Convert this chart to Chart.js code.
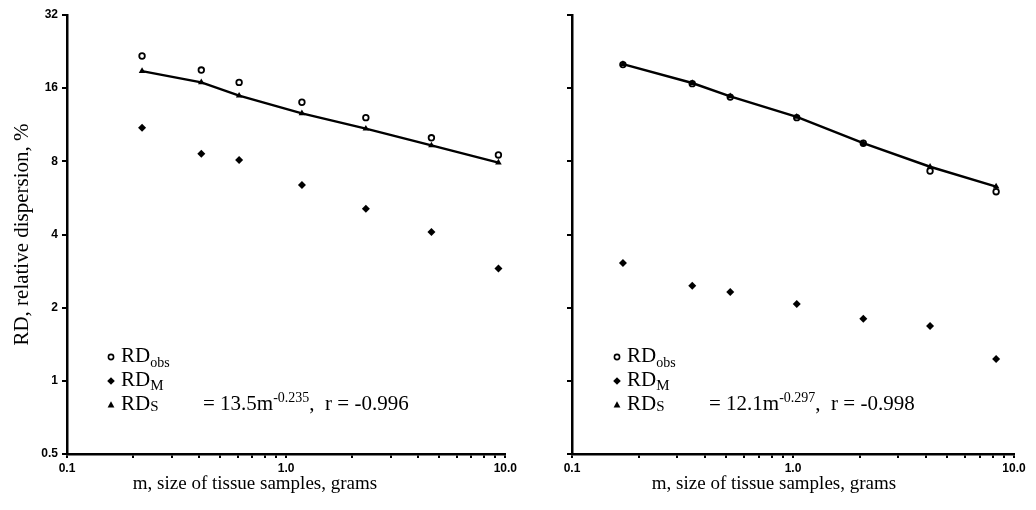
<!DOCTYPE html>
<html>
<head>
<meta charset="utf-8">
<title>Relative dispersion vs. sample size</title>
<script src="https://cdn.jsdelivr.net/npm/chart.js@4.4.1/dist/chart.umd.min.js"></script>
<style>
  html, body { margin: 0; padding: 0; background: #fff; }
  #wrap { position: relative; width: 1036px; height: 510px; }
  .panel { position: absolute; top: 0; height: 510px; }
  #left { left: 0; width: 520px; }
  #right { left: 520px; width: 516px; }
</style>
</head>
<body>
<div id="wrap">
  <div class="panel" id="left"><canvas id="chartA"></canvas></div>
  <div class="panel" id="right"><canvas id="chartB"></canvas></div>
</div>
<script>
// axis ticks (log-log)
const xTicks = [0.1, 0.2, 0.3, 0.4, 0.5, 0.6, 0.7, 0.8, 0.9, 1, 2, 3, 4, 5, 6, 7, 8, 9, 10];
const xMajor = [0.1, 1, 10];
const xTickLabels = ["0.1", "1.0", "10.0"];
const yTicks = [0.5, 1, 2, 4, 8, 16, 32];
const yTickLabels = ["0.5", "1", "2", "4", "8", "16", "32"];

// left panel: sample mass (g) and RD values (%)
const massA = [0.22, 0.41, 0.61, 1.18, 2.31, 4.6, 9.3];
const obsA = [21.7, 19.0, 16.9, 14.0, 12.1, 10.0, 8.5];
const methA = [11.0, 8.6, 8.1, 6.4, 5.1, 4.1, 2.9];
const sampA = [18.8, 16.9, 14.9, 12.6, 10.9, 9.3, 7.9];

// right panel
const massB = [0.17, 0.35, 0.52, 1.04, 2.08, 4.17, 8.3];
const obsB = [20.0, 16.7, 14.7, 12.1, 9.5, 7.3, 6.0];
const methB = [3.05, 2.46, 2.32, 2.07, 1.80, 1.68, 1.23];
const sampB = [20.1, 16.8, 14.8, 12.2, 9.5, 7.6, 6.3];

const SERIF = "'Liberation Serif', 'Times New Roman', serif";
const SANS = "'Liberation Sans', Arial, sans-serif";

const pts = (xs, ys) => xs.map((x, i) => ({ x: x, y: ys[i] }));

// draws "base" followed by a shifted smaller run (sub/superscript), returns end x
function runText(ctx, x, y, base, small, size, smallSize, shift) {
  ctx.font = size + "px " + SERIF;
  ctx.fillText(base, x, y);
  x += ctx.measureText(base).width;
  if (small) {
    ctx.font = smallSize + "px " + SERIF;
    ctx.fillText(small, x, y + shift);
    x += ctx.measureText(small).width;
  }
  return x;
}

function marker(ctx, kind, x, y) {
  ctx.save();
  ctx.fillStyle = "#000";
  ctx.strokeStyle = "#000";
  ctx.beginPath();
  if (kind === "circle") {
    ctx.lineWidth = 1.6;
    ctx.arc(x, y, 2.6, 0, Math.PI * 2);
    ctx.fillStyle = "#fff";
    ctx.fill();
    ctx.stroke();
  } else if (kind === "diamond") {
    ctx.moveTo(x, y - 3.8); ctx.lineTo(x + 3.8, y); ctx.lineTo(x, y + 3.8); ctx.lineTo(x - 3.8, y);
    ctx.closePath(); ctx.fill();
  } else {
    ctx.moveTo(x, y - 3.8); ctx.lineTo(x + 3.4, y + 2.4); ctx.lineTo(x - 3.4, y + 2.4);
    ctx.closePath(); ctx.fill();
  }
  ctx.restore();
}

// legend block, fitted equation and x-axis title
const panelNotes = {
  id: "panelNotes",
  afterDraw(chart, args, opts) {
    const ctx = chart.ctx;
    ctx.save();
    ctx.fillStyle = "#000";
    ctx.textBaseline = "alphabetic";
    ctx.textAlign = "left";

    const mx = opts.legendX, tx = opts.legendX + 10;
    const rows = opts.rows;
    marker(ctx, "circle", mx, rows[0] - 5);
    runText(ctx, tx, rows[0], "RD", "obs", 21, 14, 5);
    marker(ctx, "diamond", mx, rows[1] - 5);
    runText(ctx, tx, rows[1], "RD", "M", 21, 15, 4);
    marker(ctx, "triangle", mx, rows[2] - 5);
    runText(ctx, tx, rows[2], "RD", "S", 21, 15, 1);

    let x = runText(ctx, opts.eqX, rows[2], "= " + opts.coef + "m", opts.expo, 21, 14, -8);
    runText(ctx, x, rows[2], ",  r = " + opts.r, null, 21);

    ctx.textAlign = "center";
    ctx.font = "19px " + SERIF;
    ctx.fillText("m, size of tissue samples, grams", opts.titleX, 489);
    ctx.restore();
  }
};

function makeChart(id, mass, obs, meth, samp, cfg) {
  return new Chart(document.getElementById(id), {
    type: "scatter",
    data: {
      datasets: [
        {
          label: "RDs",
          data: pts(mass, samp),
          showLine: true,
          borderColor: "#000",
          backgroundColor: "#000",
          borderWidth: 2.4,
          pointStyle: "triangle",
          pointRadius: 3.8,
          pointBorderWidth: 0
        },
        {
          label: "RDobs",
          data: pts(mass, obs),
          pointStyle: "circle",
          pointRadius: 2.8,
          borderColor: "#000",
          backgroundColor: "#fff",
          pointBorderWidth: 1.8
        },
        {
          label: "RDM",
          data: pts(mass, meth),
          pointStyle: "rectRot",
          pointRadius: 4,
          borderColor: "#000",
          backgroundColor: "#000",
          pointBorderWidth: 0
        }
      ]
    },
    options: {
      responsive: true,
      maintainAspectRatio: false,
      animation: false,
      layout: { padding: { top: 15, right: cfg.padRight, bottom: 0, left: 0 } },
      plugins: {
        legend: { display: false },
        tooltip: { enabled: false },
        panelNotes: cfg.notes
      },
      scales: {
        x: {
          type: "logarithmic",
          min: 0.1,
          max: 10,
          afterBuildTicks: (s) => { s.ticks = xTicks.map((v) => ({ value: v })); },
          afterFit: (s) => { s.height = 56; },
          border: { color: "#000", width: 2.5 },
          grid: { drawOnChartArea: false, color: "#000", tickLength: 4, lineWidth: 2, tickWidth: 2 },
          ticks: {
            color: "#000",
            autoSkip: false,
            maxRotation: 0,
            padding: 3,
            font: { family: SANS, size: 12, weight: "bold" },
            callback: (v) => {
              const k = xMajor.indexOf(v);
              return k >= 0 ? xTickLabels[k] : "";
            }
          }
        },
        y: {
          type: "logarithmic",
          min: 0.5,
          max: 32,
          afterBuildTicks: (s) => { s.ticks = yTicks.map((v) => ({ value: v })); },
          afterFit: (s) => { s.width = cfg.yWidth; },
          border: { color: "#000", width: 2.5 },
          grid: { drawOnChartArea: false, color: "#000", tickLength: 5, lineWidth: 2, tickWidth: 2 },
          ticks: {
            color: "#000",
            autoSkip: false,
            padding: 4,
            font: { family: SANS, size: 12, weight: "bold" },
            callback: (v) => (cfg.yLabels ? yTickLabels[yTicks.indexOf(v)] : "")
          },
          title: {
            display: cfg.yLabels,
            text: "RD, relative dispersion, %",
            color: "#000",
            font: { family: SERIF, size: 21 },
            padding: { top: 10, bottom: 0 }
          }
        }
      }
    },
    plugins: [panelNotes]
  });
}

makeChart("chartA", massA, obsA, methA, sampA, {
  padRight: 13,
  yWidth: 67,
  yLabels: true,
  notes: { legendX: 111, rows: [362, 386, 410], eqX: 203, coef: "13.5", expo: "-0.235", r: "-0.996", titleX: 255 }
});

makeChart("chartB", massB, obsB, methB, sampB, {
  padRight: 22,
  yWidth: 52,
  yLabels: false,
  notes: { legendX: 97, rows: [362, 386, 410], eqX: 189, coef: "12.1", expo: "-0.297", r: "-0.998", titleX: 254 }
});
</script>
</body>
</html>
